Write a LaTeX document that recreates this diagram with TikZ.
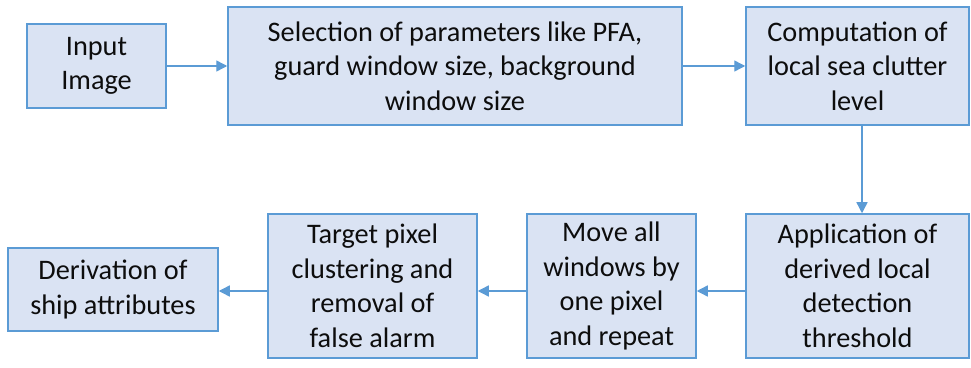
\documentclass[tikz,border=0pt]{standalone}
\usepackage{fontspec}
\setmainfont{Carlito}
\usetikzlibrary{arrows.meta}
\definecolor{boxfill}{HTML}{DAE3F3}
\definecolor{boxline}{HTML}{5B9BD5}
\definecolor{txt}{HTML}{0D0D0D}
\begin{document}
\begin{tikzpicture}[x=1pt,y=1pt,
  box/.style={draw=boxline, fill=boxfill, line width=1.5pt, align=center, text=txt,
    font=\fontsize{28.3}{34.5}\selectfont, inner sep=0pt},
  conn/.style={draw=boxline, line width=1.4pt, -{Triangle[length=11pt,width=11pt]}}]
\useasboundingbox (0,0) rectangle (971,367);
\node[box, minimum width=139pt, minimum height=84pt] (b1) at (96.5,301) {Input\\Image};
\node[box, minimum width=454pt, minimum height=118pt] (b2) at (455,301) {Selection of parameters like PFA,\\guard window size, background\\window size};
\node[box, minimum width=223pt, minimum height=118pt] (b3) at (857.5,301) {Computation of\\local sea clutter\\level};
\node[box, minimum width=223pt, minimum height=144pt] (b4) at (857.5,81) {Application of\\derived local\\detection\\threshold};
\node[box, minimum width=169pt, minimum height=144pt] (b5) at (611.5,81) {Move all\\windows by\\one pixel\\and repeat};
\node[box, minimum width=209pt, minimum height=144pt] (b6) at (372.5,81) {Target pixel\\clustering and\\removal of\\false alarm};
\node[box, minimum width=210pt, minimum height=83pt] (b7) at (113,77.5) {Derivation of\\ship attributes};
\draw[conn] (b1.east) -- (b2.west);
\draw[conn] (b2.east) -- (b3.west);
\draw[conn] ([xshift=4.5pt]b3.south) -- ([xshift=4.5pt]b4.north);
\draw[conn] ([yshift=-5pt]b4.west) -- ([yshift=-5pt]b5.east);
\draw[conn] ([yshift=-5pt]b5.west) -- ([yshift=-5pt]b6.east);
\draw[conn] ([yshift=-5pt]b6.west) -- ([yshift=-1.5pt]b7.east);
\end{tikzpicture}
\end{document}
